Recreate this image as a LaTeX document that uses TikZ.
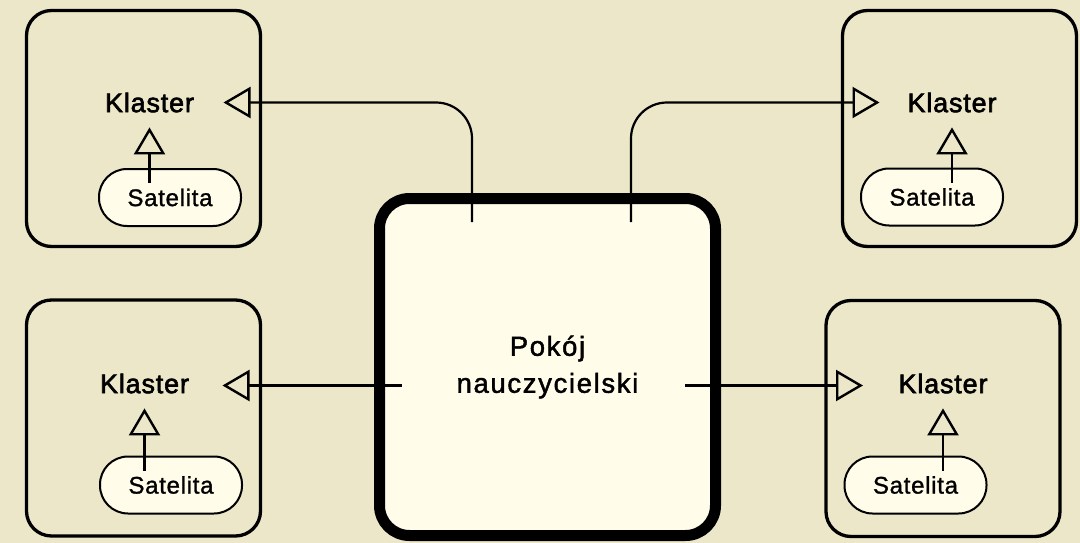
\documentclass[tikz,border=0pt]{standalone}
\usepackage{fontspec}
\setmainfont{Liberation Sans}
\newfontfamily\klasterfont[LetterSpace=3, FakeBold=2.2]{Liberation Sans}
\newfontfamily\roomfont[LetterSpace=6, FakeBold=1.6]{Liberation Sans}
\newfontfamily\satfont[LetterSpace=3, FakeBold=1.2]{Liberation Sans}
\usetikzlibrary{arrows.meta, positioning, calc}
\definecolor{bgbeige}{RGB}{235,231,200}
\definecolor{lightcream}{RGB}{255,252,234}

\begin{document}
\begin{tikzpicture}[
    x=1pt, y=-1pt,
    >={Triangle[open, length=27pt, width=31pt, line width=2.4pt]},
    cluster/.style={draw, line width=3.3pt, rounded corners=25pt, minimum width=234pt, minimum height=236pt},
    klaster/.style={inner sep=0pt, outer sep=0pt, font=\klasterfont\fontsize{27}{32}\selectfont},
    sat/.style={draw, line width=2pt, rounded corners=28pt, fill=lightcream, minimum width=142pt, minimum height=57pt, inner sep=0pt, font=\satfont\fontsize{24}{28}\selectfont},
    room/.style={draw, line width=11pt, rounded corners=30pt, fill=lightcream, minimum width=336pt, minimum height=337pt, outer sep=0pt, align=center, font=\roomfont\fontsize{27.5}{37}\selectfont},
    link/.style={->, line width=2.2pt},
]
    \fill[bgbeige] (0,0) rectangle (1080,543);
    \useasboundingbox (0,0) rectangle (1080,543);

    % clusters
    \node[cluster] (c1) at (143.5,128.5) {};
    \node[cluster] (c2) at (959.5,128.5) {};
    \node[cluster] (c3) at (143.5,418) {};
    \node[cluster] (c4) at (943,418.5) {};

    \node[klaster] (k1) at (149.5,102.5) {Klaster};
    \node[klaster] (k2) at (952,102.5) {Klaster};
    \node[klaster] (k3) at (144.5,383.5) {Klaster};
    \node[klaster] (k4) at (943,383.5) {Klaster};

    % teachers' room
    \node[room] (room) at (547.5,367) {Pokój\\nauczycielski};

    \draw[link, rounded corners=36pt] ([xshift=-75.5pt,yshift=-23.5pt]room.north) |- ($(c1.center |- k1.center)+(80,0)$);
    \draw[link, rounded corners=36pt] ([xshift=83.5pt,yshift=-23.5pt]room.north) |- ($(c2.center |- k2.center)+(-80,0)$);
    \draw[link] ($(room.west |- k3.center)+(22,2)$) -- ($(c3.center |- k3.center)+(79,2)$);
    \draw[link] ($(room.east |- k4.center)+(-30.5,2)$) -- ($(c4.center |- k4.center)+(-80,2)$);

    % satellites
    \node[sat] (s1) at (170,197.5) {Satelita};
    \node[sat] (s2) at (932,197) {Satelita};
    \node[sat] (s3) at (171,485) {Satelita};
    \node[sat] (s4) at (915.5,485) {Satelita};

    \foreach \i in {1,...,4}
        \draw[link] ($(s\i.north -| k\i.south)+(0,15)$) -- ($(k\i.south)+(0,15)$);
\end{tikzpicture}
\end{document}
